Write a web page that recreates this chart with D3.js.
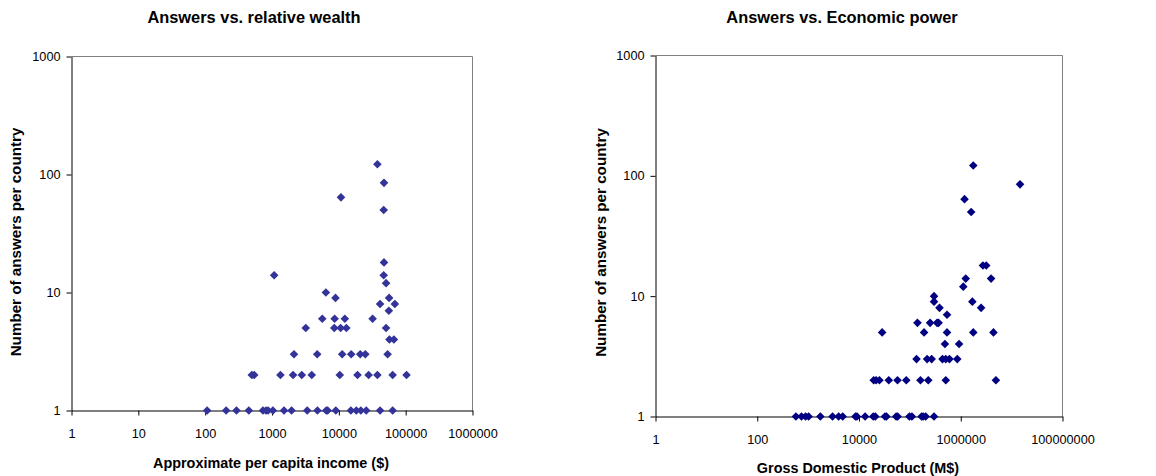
<!DOCTYPE html>
<html>
<head>
<meta charset="utf-8">
<script src="https://cdn.jsdelivr.net/npm/d3@7/dist/d3.min.js"></script>
<style>
  html, body { margin: 0; padding: 0; background: #fff; }
  svg { display: block; }
  text { font-family: "Liberation Sans", Arial, Helvetica, sans-serif; fill: #000; }
</style>
</head>
<body>
<svg id="chart" width="1156" height="476"></svg>
<script>
// Per-capita income ($) and answers per country
const incomeValues = [
  107, 206, 294, 450, 733, 813, 874, 1032, 1514, 1964, 3366, 4787, 6469, 6812, 9010, 15140, 18250, 21330, 25700, 41400, 63900,
  499, 542, 1337, 2066, 2790, 3934, 10330, 19030, 27900, 37760, 63900, 103000,
  2133, 4745, 11220, 15310, 20900, 24900, 53700,
  57100, 66700,
  3200, 8550, 10640, 12970, 50900,
  5650, 8650, 12300, 32000,
  56000,
  41400, 68900,
  8910, 56500,
  6400,
  50900,
  1077, 46900,
  47400,
  46900,
  10770,
  47400,
  37760
];
const incomeAnswers = [
  1, 1, 1, 1, 1, 1, 1, 1, 1, 1, 1, 1, 1, 1, 1, 1, 1, 1, 1, 1, 1,
  2, 2, 2, 2, 2, 2, 2, 2, 2, 2, 2, 2,
  3, 3, 3, 3, 3, 3, 3,
  4, 4,
  5, 5, 5, 5, 5,
  6, 6, 6, 6,
  7,
  8, 8,
  9, 9,
  10,
  12,
  14, 14,
  18,
  50,
  64,
  85,
  122
];

// Gross domestic product (M$) and answers per country
const gdpValues = [
  575, 741, 891, 1023, 1738, 3020, 3981, 4786, 8511, 9120, 13180, 19050, 20890, 32360, 34670, 53700, 57540, 97720, 109600, 169800, 182000, 204200, 298500,
  19450, 21680, 25230, 38460, 57150, 84920, 161400, 230100, 508200, 4909000,
  135200, 218300, 267900, 437500, 508200, 599800, 855100,
  488700, 926800,
  28510, 190100, 537000, 1762000, 4395000,
  140900, 250000, 342000, 366400,
  537000,
  382000, 2512000,
  298500, 1690000,
  298500,
  1122000,
  1253000, 3945000,
  2729000, 3170000,
  1603000,
  1186000,
  14620000,
  1762000
];
const gdpAnswers = [
  1, 1, 1, 1, 1, 1, 1, 1, 1, 1, 1, 1, 1, 1, 1, 1, 1, 1, 1, 1, 1, 1, 1,
  2, 2, 2, 2, 2, 2, 2, 2, 2, 2,
  3, 3, 3, 3, 3, 3, 3,
  4, 4,
  5, 5, 5, 5, 5,
  6, 6, 6, 6,
  7,
  8, 8,
  9, 9,
  10,
  12,
  14, 14,
  18, 18,
  50,
  64,
  85,
  122
];

const incomeTicks = [1, 10, 100, 1000, 10000, 100000, 1000000];
const gdpTicks = [1, 100, 10000, 1000000, 100000000];
const answerTicks = [1, 10, 100, 1000];

const svg = d3.select("#chart");

// A diamond marker centred on the origin
const diamond = r => `M0,${-r}L${r},0L0,${r}L${-r},0Z`;

function panel(opts) {
  const x = d3.scaleLog().domain(opts.xDomain).range([opts.left, opts.right]);
  const y = d3.scaleLog().domain([1, 1000]).range([opts.bottom, opts.top]);
  const g = svg.append("g");

  // plot-area frame (grey top and right edges)
  g.append("path")
    .attr("d", `M${opts.left},${opts.top}H${opts.right}V${opts.bottom}`)
    .attr("fill", "none")
    .attr("stroke", "#808080")
    .attr("stroke-width", 1);

  const fmt = d3.format("d");

  const xAxis = g.append("g")
    .attr("transform", `translate(0,${opts.bottom})`)
    .call(d3.axisBottom(x).tickValues(opts.xTicks).tickFormat(fmt)
      .tickSize(5).tickSizeOuter(0).tickPadding(13));
  const yAxis = g.append("g")
    .attr("transform", `translate(${opts.left},0)`)
    .call(d3.axisLeft(y).tickValues(answerTicks).tickFormat(fmt)
      .tickSize(5).tickSizeOuter(0).tickPadding(6));

  [xAxis, yAxis].forEach(a => {
    a.select(".domain").attr("stroke", "#000").attr("stroke-width", 1);
    a.selectAll(".tick line").attr("stroke", "#000");
    a.selectAll(".tick text")
      .style("font-family", '"Liberation Sans", Arial, sans-serif')
      .style("font-size", "12.7px")
      .attr("fill", "#000");
  });

  // markers
  g.append("g")
    .selectAll("path")
    .data(opts.xs.map((v, i) => [v, opts.ys[i]]))
    .join("path")
    .attr("d", diamond(4.3))
    .attr("transform", d => `translate(${x(d[0])},${y(d[1])})`)
    .attr("fill", opts.color);

  // titles
  svg.append("text")
    .attr("x", opts.titleX).attr("y", 22.7)
    .attr("text-anchor", "middle")
    .style("font-size", "16.4px").style("font-weight", "bold")
    .text(opts.title);
  svg.append("text")
    .attr("x", opts.xTitleX).attr("y", opts.xTitleY)
    .attr("text-anchor", "middle")
    .style("font-size", "14.4px").style("font-weight", "bold")
    .text(opts.xTitle);
  svg.append("text")
    .attr("transform", `translate(${opts.yTitleX},${opts.yTitleY}) rotate(-90)`)
    .attr("text-anchor", "middle")
    .style("font-size", "15.2px").style("font-weight", "bold")
    .text("Number of answers per country");
}

panel({
  xDomain: [1, 1000000], xTicks: incomeTicks,
  left: 71.5, right: 472.5, top: 56.5, bottom: 410.5,
  xs: incomeValues, ys: incomeAnswers, color: "#333399",
  title: "Answers vs. relative wealth", titleX: 254,
  xTitle: "Approximate per capita income ($)", xTitleX: 271, xTitleY: 467.7,
  yTitleX: 20.7, yTitleY: 242
});

panel({
  xDomain: [1, 100000000], xTicks: gdpTicks,
  left: 655.5, right: 1062.5, top: 55.5, bottom: 416.5,
  xs: gdpValues, ys: gdpAnswers, color: "#000080",
  title: "Answers vs. Economic power", titleX: 842,
  xTitle: "Gross Domestic Product (M$)", xTitleX: 858, xTitleY: 472.7,
  yTitleX: 605.7, yTitleY: 242.5
});
</script>
</body>
</html>
